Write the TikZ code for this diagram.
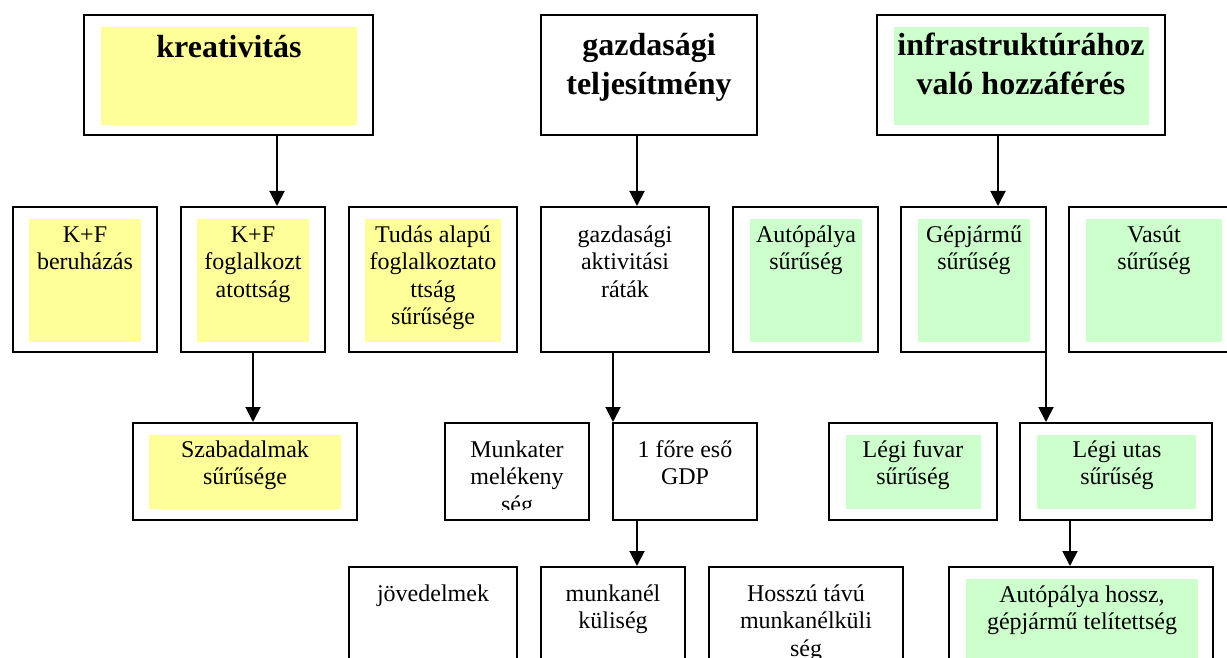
\documentclass[tikz,border=0pt]{standalone}
\usepackage{fontspec}
\setmainfont{Liberation Serif}
\usetikzlibrary{fit,arrows.meta}

\definecolor{cellyellow}{HTML}{FFFF99}
\definecolor{cellgreen}{HTML}{CCFFCC}

\tikzset{
  cell/.style={draw, line width=1pt, inner sep=0pt},
  arr/.style={line width=1pt, -{Triangle[width=7.5pt,length=7.5pt]}},
  txt/.style={anchor=north, inner sep=0pt, align=center, font={\fontsize{12}{13.7}\selectfont}},
  head/.style={anchor=north, inner sep=0pt, align=center, font={\fontsize{16}{19.5}\selectfont\bfseries}},
}

\begin{document}
\begin{tikzpicture}

\def\px{0.5pt}

\begin{scope}[x=\px,y=-\px]
\useasboundingbox (0,0) rectangle (1227,658);
\clip (0,0) rectangle (1227,658);

% coloured fields inside the cells
\foreach \col/\a/\b/\c/\d in{
	cellyellow/101/27/357/125
	,cellgreen/894/27/1149/125
	,cellyellow/29/219/141/342
	,cellyellow/197/219/309/342
	,cellyellow/365/219/501/342
	,cellgreen/750/219/862/342
	,cellgreen/918/219/1030/342
	,cellgreen/1086/219/1222/342
	,cellyellow/149/435/341/509
	,cellgreen/846/435/981/509
	,cellgreen/1037/435/1196/509
	,cellgreen/966/579/1198/700
}{
	\fill[\col] (\a,\b) rectangle (\c,\d);
}

% cells
\foreach \n/\a/\b/\c/\d in{
	kreat/84/15/373/135
	,gazd/541/15/757/135
	,infra/877/15/1165/135
	,kfb/13/207/157/352
	,kff/181/207/325/352
	,tudas/349/207/517/352
	,aktiv/541/207/709/352
	,autop/733/207/878/352
	,gepj/901/207/1046/352
	,vasut/1069/207/1239/352
	,szab/133/423/357/520
	,mtermel/445/423/589/520
	,gdp/613/423/757/520
	,legif/829/423/997/520
	,legiu/1020/423/1212/520
	,jov/349/567/517/720
	,mnelk/541/567/685/720
	,hosszu/709/567/903/720
	,autoh/949/567/1213/720
}{
	\node[cell, fit={(\a,\b) (\c,\d)}] (\n) {};
}

% texts
\node[head] (t-kreat) at (229,30) {\strut kreativitás};
\node[head] (t-gazd) at (649,28) {\strut gazdasági\\teljesítmény};
\node[head] (t-infra) at (1021,28) {\strut infrastruktúrához\\való hozzáférés};

\node[txt] (t-kfb) at (85,223) {\strut K+F\\beruházás};
\node[txt] (t-kff) at (253,223) {\strut K+F\\foglalkozt\\atottság};
\node[txt] (t-tudas) at (433,223) {\strut Tudás alapú\\foglalkoztato\\ttság\\sűrűsége};
\node[txt] (t-aktiv) at (625,223) {\strut gazdasági\\aktivitási\\ráták};
\node[txt] (t-autop) at (806,223) {\strut Autópálya\\sűrűség};
\node[txt] (t-gepj) at (974,223) {\strut Gépjármű\\sűrűség};
\node[txt] (t-vasut) at (1154,223) {\strut Vasút\\sűrűség};

\node[txt] (t-szab) at (245,438) {\strut Szabadalmak\\sűrűsége};
\begin{scope}
\clip (445,435) rectangle (589,509);
\node[txt] (t-mtermel) at (517,438) {\strut Munkater\\melékeny\\ség};
\end{scope}
\node[txt] (t-gdp) at (685,438) {\strut 1 főre eső\\GDP};
\node[txt] (t-legif) at (913,438) {\strut Légi fuvar\\sűrűség};
\node[txt] (t-legiu) at (1117,438) {\strut Légi utas\\sűrűség};

\node[txt] (t-jov) at (433,582) {\strut jövedelmek};
\node[txt] (t-mnelk) at (613,582) {\strut munkanél\\küliség};
\node[txt] (t-hosszu) at (806,582) {\strut Hosszú távú\\munkanélküli\\ség};
\node[txt] (t-autoh) at (1082,583) {\strut Autópálya hossz,\\gépjármű telítettség};

% arrow columns
\foreach \n/\a in{ca/277,cb/637,cc/998,cd/253,ce/613,cf/1046,cg/637,ch/1070}{
	\coordinate (\n) at (\a,0);
}

\draw[arr] (kreat.south -| ca) -- (kff.north -| ca);
\draw[arr] (gazd.south -| cb) -- (aktiv.north -| cb);
\draw[arr] (infra.south -| cc) -- (gepj.north -| cc);
\draw[arr] (kff.south -| cd) -- (szab.north -| cd);
\draw[arr] (aktiv.south -| ce) -- (gdp.north -| ce);
\draw[arr] (gepj.south -| cf) -- (legiu.north -| cf);
\draw[arr] (gdp.south -| cg) -- (mnelk.north -| cg);
\draw[arr] (legiu.south -| ch) -- (autoh.north -| ch);
\end{scope}

\end{tikzpicture}
\end{document}
